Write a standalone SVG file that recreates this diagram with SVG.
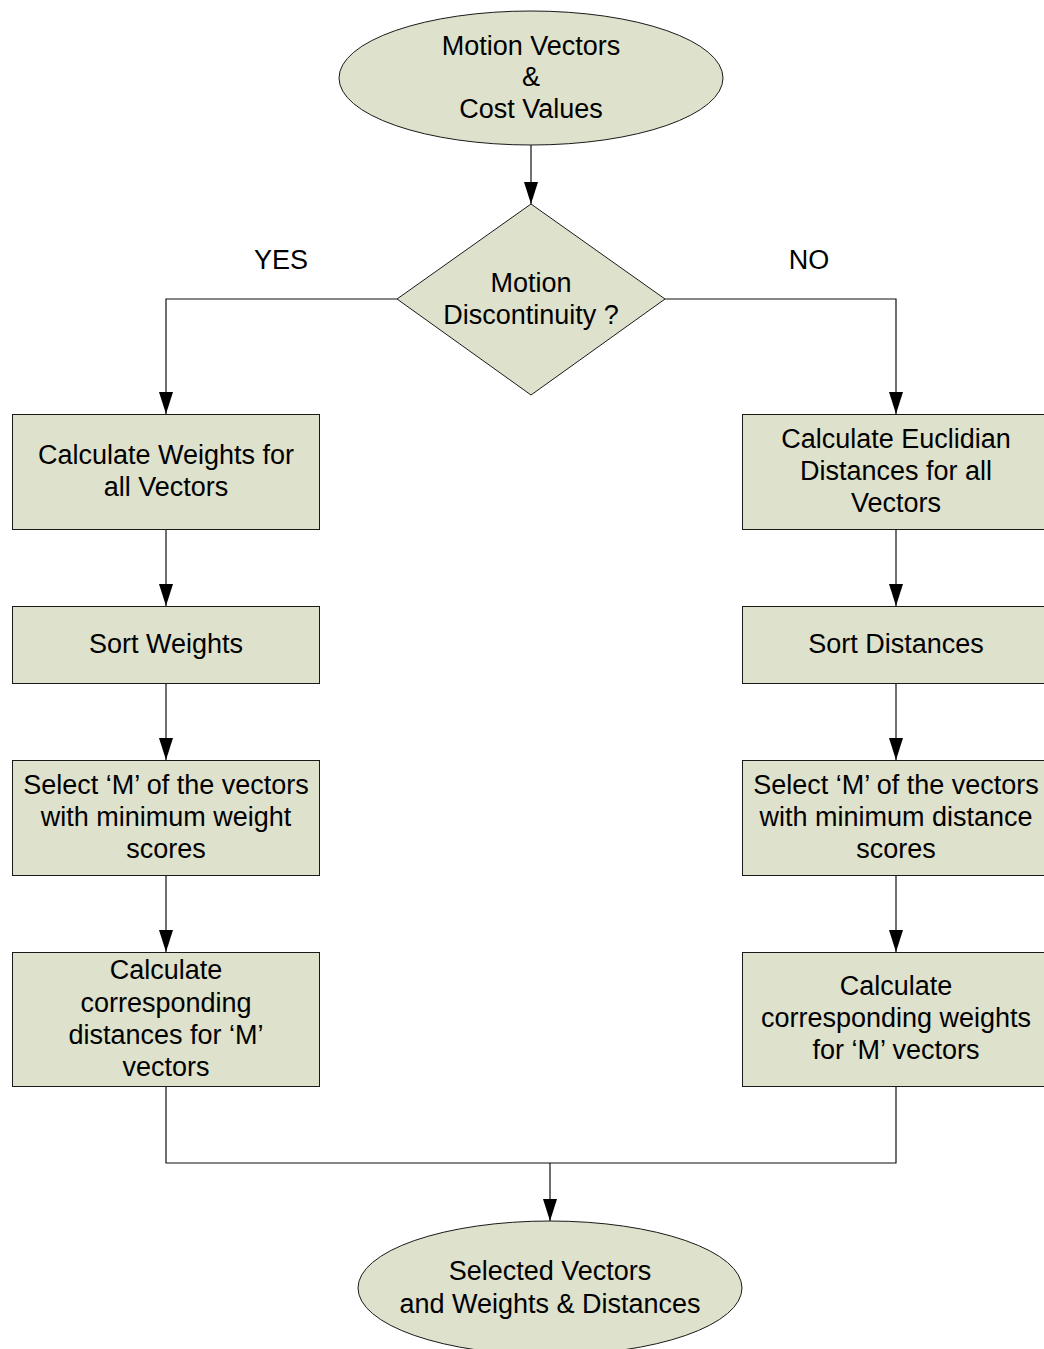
<svg xmlns="http://www.w3.org/2000/svg" width="1044" height="1349" viewBox="0 0 1044 1349">
  <style>
    .shape { fill: #dee1cc; stroke: #1a1a1a; stroke-width: 1; }
    .wire { fill: none; stroke: #111; stroke-width: 1.2; }
    text { font-family: "Liberation Sans", Arial, sans-serif; font-size: 27px; fill: #000; text-anchor: middle; }
  </style>
  <defs>
    <marker id="arrow" markerUnits="userSpaceOnUse" markerWidth="22" markerHeight="14" refX="22" refY="7" viewBox="0 0 22 14" orient="auto">
      <path d="M0,0 L22,7 L0,14 Z" fill="#000"/>
    </marker>
  </defs>
  <rect width="1044" height="1349" fill="#fff"/>

  <!-- connectors -->
  <g id="connectors">
    <line class="wire" x1="531" y1="145" x2="531" y2="204" marker-end="url(#arrow)"/>
    <polyline class="wire" points="397,299 166,299 166,414" marker-end="url(#arrow)"/>
    <polyline class="wire" points="665,299 896,299 896,414" marker-end="url(#arrow)"/>
    <line class="wire" x1="166" y1="529" x2="166" y2="606" marker-end="url(#arrow)"/>
    <line class="wire" x1="166" y1="683" x2="166" y2="760" marker-end="url(#arrow)"/>
    <line class="wire" x1="166" y1="875" x2="166" y2="952" marker-end="url(#arrow)"/>
    <line class="wire" x1="896" y1="529" x2="896" y2="606" marker-end="url(#arrow)"/>
    <line class="wire" x1="896" y1="683" x2="896" y2="760" marker-end="url(#arrow)"/>
    <line class="wire" x1="896" y1="875" x2="896" y2="952" marker-end="url(#arrow)"/>
    <polyline class="wire" points="166,1086 166,1163 896,1163 896,1086"/>
    <line class="wire" x1="550" y1="1163" x2="550" y2="1221" marker-end="url(#arrow)"/>
    <text x="281" y="269">YES</text>
    <text x="809" y="269">NO</text>
  </g>

  <g id="start">
    <ellipse class="shape" cx="531" cy="78" rx="192" ry="67"/>
    <text x="531" y="55">Motion Vectors</text>
    <text x="531" y="86">&amp;</text>
    <text x="531" y="118">Cost Values</text>
  </g>

  <g id="decision">
    <polygon class="shape" points="531,204 665,299 531,395 397,299"/>
    <text x="531" y="292">Motion</text>
    <text x="531" y="324">Discontinuity ?</text>
  </g>

  <g id="calc-weights">
    <rect class="shape" x="12.5" y="414.5" width="307" height="115"/>
    <text x="166" y="464">Calculate Weights for</text>
    <text x="166" y="496">all Vectors</text>
  </g>

  <g id="sort-weights">
    <rect class="shape" x="12.5" y="606.5" width="307" height="77"/>
    <text x="166" y="653">Sort Weights</text>
  </g>

  <g id="select-weights">
    <rect class="shape" x="12.5" y="760.5" width="307" height="115"/>
    <text x="166" y="794">Select ‘M’ of the vectors</text>
    <text x="166" y="826">with minimum weight</text>
    <text x="166" y="858">scores</text>
  </g>

  <g id="calc-distances-m">
    <rect class="shape" x="12.5" y="952.5" width="307" height="134"/>
    <text x="166" y="979">Calculate</text>
    <text x="166" y="1012">corresponding</text>
    <text x="166" y="1044">distances for ‘M’</text>
    <text x="166" y="1076">vectors</text>
  </g>

  <g id="calc-distances">
    <rect class="shape" x="742.5" y="414.5" width="307" height="115"/>
    <text x="896" y="448">Calculate Euclidian</text>
    <text x="896" y="480">Distances for all</text>
    <text x="896" y="512">Vectors</text>
  </g>

  <g id="sort-distances">
    <rect class="shape" x="742.5" y="606.5" width="307" height="77"/>
    <text x="896" y="653">Sort Distances</text>
  </g>

  <g id="select-distances">
    <rect class="shape" x="742.5" y="760.5" width="307" height="115"/>
    <text x="896" y="794">Select ‘M’ of the vectors</text>
    <text x="896" y="826">with minimum distance</text>
    <text x="896" y="858">scores</text>
  </g>

  <g id="calc-weights-m">
    <rect class="shape" x="742.5" y="952.5" width="307" height="134"/>
    <text x="896" y="995">Calculate</text>
    <text x="896" y="1027">corresponding weights</text>
    <text x="896" y="1059">for ‘M’ vectors</text>
  </g>

  <g id="result">
    <ellipse class="shape" cx="550" cy="1288" rx="192" ry="67"/>
    <text x="550" y="1280">Selected Vectors</text>
    <text x="550" y="1313">and Weights &amp; Distances</text>
  </g>
</svg>
